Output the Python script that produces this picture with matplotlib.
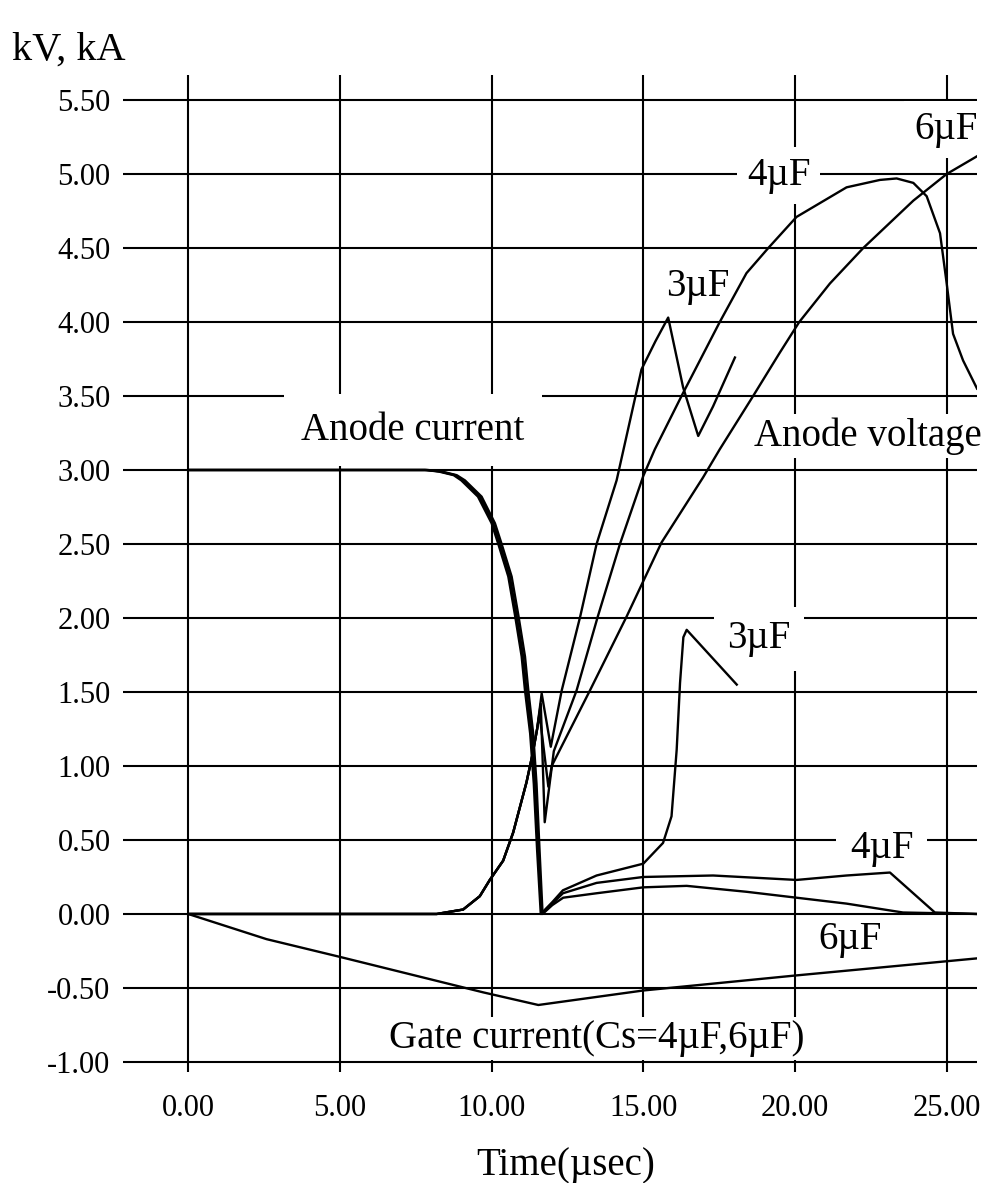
import matplotlib
matplotlib.use("Agg")
import matplotlib.pyplot as plt

plt.rcParams['font.family'] = ['Liberation Serif', 'DejaVu Serif']

# grid / tick values
x_ticks = [0, 5, 10, 15, 20, 25]
y_ticks = [-1.0, -0.5, 0.0, 0.5, 1.0, 1.5, 2.0, 2.5, 3.0, 3.5, 4.0, 4.5, 5.0, 5.5]

# anode current (kA) for Cs = 3, 4, 6 uF
t_ia_3 = [0.0, 7.8, 8.25, 8.75, 9.00, 9.55, 10.00, 10.22, 10.55, 10.77, 10.99, 11.10, 11.27, 11.39, 11.50, 11.62,
          12.0, 12.35, 13.46, 15.0, 15.65, 15.93, 16.10, 16.21, 16.32, 16.43, 18.08]
ia_3 = [3.00, 3.00, 2.99, 2.965, 2.93, 2.82, 2.64, 2.50, 2.28, 2.02, 1.74, 1.51, 1.22, 0.88, 0.43, 0.00,
        0.08, 0.16, 0.26, 0.34, 0.48, 0.66, 1.11, 1.56, 1.87, 1.92, 1.55]

t_ia_4 = [0.0, 7.85, 8.30, 8.80, 9.06, 9.61, 10.05, 10.27, 10.60, 10.82, 11.04, 11.15, 11.32, 11.43, 11.54, 11.65,
          12.0, 12.35, 13.46, 15.0, 17.3, 20.05, 21.7, 23.13, 24.61, 26.0]
ia_4 = [3.00, 3.00, 2.99, 2.965, 2.93, 2.82, 2.64, 2.50, 2.28, 2.02, 1.74, 1.51, 1.22, 0.88, 0.43, 0.00,
        0.07, 0.14, 0.21, 0.25, 0.26, 0.23, 0.26, 0.28, 0.01, 0.0]

t_ia_6 = [0.0, 7.9, 8.35, 8.85, 9.12, 9.67, 10.11, 10.33, 10.66, 10.88, 11.10, 11.21, 11.37, 11.48, 11.58, 11.68,
          12.0, 12.36, 13.46, 15.0, 16.43, 18.4, 20.05, 21.7, 23.56, 26.0]
ia_6 = [3.00, 3.00, 2.99, 2.965, 2.93, 2.82, 2.64, 2.50, 2.28, 2.02, 1.74, 1.51, 1.22, 0.88, 0.43, 0.00,
        0.06, 0.11, 0.14, 0.18, 0.19, 0.15, 0.11, 0.07, 0.01, 0.0]

# anode voltage (kV), common rise before the snubber oscillation
t_rise = [0.0, 8.19, 9.06, 9.61, 9.94, 10.38, 10.71, 11.15, 11.35, 11.50]
v_rise = [0.0, 0.0, 0.03, 0.12, 0.23, 0.36, 0.55, 0.89, 1.08, 1.25]

t_vak_3 = [11.65, 11.95, 12.31, 12.92, 13.46, 14.12, 14.94, 15.4, 15.82, 16.31, 16.81, 17.3, 18.02]
vak_3 = [1.49, 1.13, 1.51, 2.01, 2.50, 2.93, 3.68, 3.87, 4.03, 3.56, 3.23, 3.43, 3.76]

t_vak_4 = [11.62, 11.75, 12.05, 12.8, 13.5, 14.23, 15.0, 15.38, 16.26, 17.52, 18.4, 19.12, 20.05,
           21.7, 22.8, 23.35, 23.9, 24.34, 24.78, 25.0, 25.21, 25.54, 26.0]
vak_4 = [1.42, 0.62, 1.10, 1.51, 2.01, 2.50, 2.96, 3.14, 3.50, 4.00, 4.33, 4.50, 4.71,
         4.91, 4.96, 4.97, 4.94, 4.85, 4.60, 4.26, 3.92, 3.74, 3.55]

t_vak_6 = [11.58, 11.87, 11.98, 13.24, 14.45, 15.6, 16.97, 17.52, 18.62, 19.49, 20.14, 21.15,
           22.25, 23.9, 25.0, 26.0]
vak_6 = [1.35, 0.86, 1.00, 1.51, 2.01, 2.51, 2.95, 3.14, 3.50, 3.79, 4.00, 4.26,
         4.50, 4.82, 5.00, 5.12]

# gate current (kA), Cs = 4 uF and 6 uF
t_ig = [0.0, 2.58, 5.0, 9.73, 11.54, 15.0, 20.0, 26.0]
ig = [0.0, -0.17, -0.29, -0.53, -0.615, -0.517, -0.416, -0.30]

fig = plt.figure(figsize=(9.88, 11.83), dpi=100)
ax = fig.add_axes([0.1245, 0.0938, 0.8644, 0.8428])
ax.set_xlim(-2.15, 26.0)
ax.set_ylim(-1.068, 5.669)

for v in y_ticks:
    ax.axhline(v, color='black', lw=1.5, zorder=1)
for v in x_ticks:
    ax.axvline(v, color='black', lw=1.5, zorder=1)

for s in ax.spines.values():
    s.set_visible(False)
ax.set_xticks(x_ticks)
ax.set_xticklabels(['%.2f' % v for v in x_ticks])
ax.set_yticks(y_ticks)
ax.set_yticklabels(['%.2f' % v for v in y_ticks])
ax.tick_params(axis='x', length=0, pad=16, labelsize=22)
ax.tick_params(axis='y', length=0, pad=9, labelsize=22)

lw = 1.7
ax.plot(t_ia_3, ia_3, color='black', lw=lw, zorder=4)
ax.plot(t_ia_4, ia_4, color='black', lw=lw, zorder=4)
ax.plot(t_ia_6, ia_6, color='black', lw=lw, zorder=4)
ax.plot(t_rise + t_vak_3, v_rise + vak_3, color='black', lw=lw, zorder=4)
ax.plot(t_rise + t_vak_4, v_rise + vak_4, color='black', lw=lw, zorder=4)
ax.plot(t_rise + t_vak_6, v_rise + vak_6, color='black', lw=lw, zorder=4)
ax.plot(t_ig, ig, color='black', lw=lw, zorder=4)


def label(x, y, s, pad):
    ax.text(x, y, s, fontsize=28, ha='center', va='center', zorder=3,
            bbox=dict(boxstyle='square,pad=%.2f' % pad, fc='white', ec='none'))


label(7.41, 3.27, 'Anode current', 0.45)
label(22.4, 3.23, 'Anode voltage', 0.08)
label(16.8, 4.24, '3\u00b5F', 0.05)
label(19.47, 4.99, '4\u00b5F', 0.25)
label(24.97, 5.30, '6\u00b5F', 0.25)
label(18.81, 1.86, '3\u00b5F', 0.35)
label(22.86, 0.44, '4\u00b5F', 0.35)
label(21.81, -0.17, '6\u00b5F', 0.12)
label(13.47, -0.84, 'Gate current(Cs=4\u00b5F,6\u00b5F)', 0.08)

fig.text(12 / 988, 1 - 50 / 1183, 'kV, kA', fontsize=29, ha='left', va='center')
fig.text(566 / 988, 1 - 1165 / 1183, 'Time(\u00b5sec)', fontsize=28, ha='center', va='center')

fig.savefig('out.png', dpi=100)
